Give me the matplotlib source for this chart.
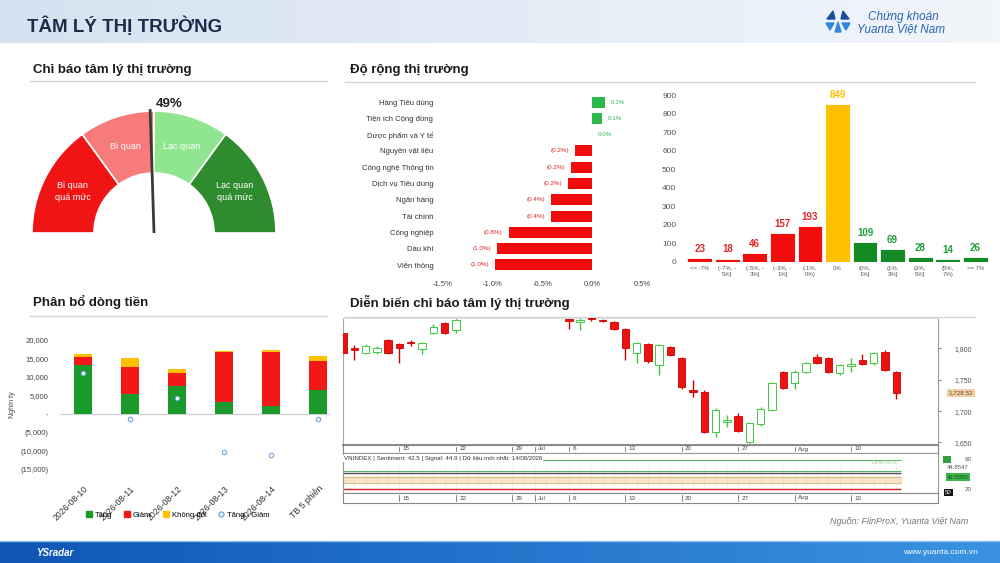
import numpy as np
import matplotlib
matplotlib.use('Agg')
import matplotlib.pyplot as plt
import matplotlib.colors as mcolors
import matplotlib.transforms as mtrans
from matplotlib.patches import Wedge, Rectangle, Polygon, Patch
from matplotlib.lines import Line2D

plt.rcParams['font.family'] = ['Liberation Sans', 'DejaVu Sans']

# ---------------- data ----------------
sentiment_value = 49
zone_bounds = [0, 30, 50, 70, 100]
zone_labels = ['Bi quan\nquá mức', 'Bi quan', 'Lạc quan', 'Lạc quan\nquá mức']

sectors = ['Hàng Tiêu dùng', 'Tiện ích Cộng đồng', 'Dược phẩm và Y tế', 'Nguyên vật liệu',
           'Công nghệ Thông tin', 'Dịch vụ Tiêu dùng', 'Ngân hàng', 'Tài chính',
           'Công nghiệp', 'Dầu khí', 'Viễn thông']
sector_change = [0.13, 0.10, 0.0, -0.17, -0.21, -0.24, -0.41, -0.41, -0.84, -0.96, -0.98]

breadth_bins = ['<= -7%', '(-7%, -\n5%]', '(-5%, -\n3%]', '(-3%, -\n1%]', '(-1%,\n0%)', '0%',
                '(0%,\n1%]', '(1%,\n3%]', '(3%,\n5%]', '(5%,\n7%)', '>= 7%']
breadth_counts = [23, 18, 46, 157, 193, 849, 109, 69, 28, 14, 26]

flow_dates = ['2026-08-10', '2026-08-11', '2026-08-12', '2026-08-13', '2026-08-14', 'TB 5 phiên']
flow_up = [13100, 5400, 7700, 3200, 2300, 6600]
flow_down = [2400, 7200, 3500, 13400, 14300, 7600]
flow_flat = [600, 2500, 1000, 400, 700, 1500]
flow_net = [11000, -1300, 4400, -10300, -11000, -1400]

candle_open = [1824, 1800, 1792, 1794, 1813, 1806, 1810, 1798, 1824, 1840,
               1829, 1852, 1858, 1865, 1861, 1872, 1869, 1875, 1879, 1866,
               1847, 1842, 1848, 1845, 1841, 1830, 1792, 1806, 1773, 1802,
               1784, 1733, 1730, 1667, 1683, 1692, 1651, 1679, 1702, 1762,
               1745, 1762, 1786, 1784, 1760, 1771, 1781, 1776, 1794, 1762]
candle_high = [1826, 1805, 1806, 1804, 1814, 1808, 1813, 1810, 1838, 1842,
               1852, 1862, 1868, 1872, 1875, 1880, 1878, 1884, 1882, 1871,
               1856, 1852, 1851, 1847, 1844, 1832, 1810, 1808, 1806, 1803,
               1786, 1749, 1733, 1705, 1694, 1697, 1683, 1706, 1746, 1764,
               1765, 1778, 1791, 1786, 1775, 1784, 1790, 1794, 1797, 1764]
candle_low = [1790, 1781, 1790, 1791, 1790, 1776, 1803, 1790, 1822, 1822,
              1824, 1850, 1854, 1858, 1857, 1866, 1862, 1870, 1864, 1856,
              1831, 1829, 1844, 1842, 1829, 1781, 1776, 1777, 1758, 1787,
              1735, 1722, 1665, 1659, 1675, 1666, 1649, 1676, 1700, 1735,
              1735, 1760, 1775, 1760, 1757, 1762, 1774, 1774, 1763, 1719]
candle_close = [1792, 1797, 1803, 1801, 1792, 1801, 1808, 1808, 1833, 1824,
                1845, 1858, 1865, 1861, 1872, 1869, 1875, 1879, 1866, 1860,
                1843, 1845, 1846, 1843, 1830, 1800, 1808, 1779, 1805, 1789,
                1738, 1731, 1667, 1702, 1686, 1668, 1681, 1703, 1744, 1737,
                1762, 1776, 1776, 1762, 1773, 1775, 1775, 1792, 1765, 1728.52]
date_tick_idx = [5, 10, 15, 17, 20, 25, 30, 35, 40, 45]
date_tick_lbl = ['15', '22', '29', 'Jul', '6', '13', '20', '27', 'Aug', '10']
price_ticks = [1650, 1700, 1750, 1800]
sentiment_latest = 42.5
signal_latest = 44.8547
level_high = 60
level_low = 20

# ---------------- figure ----------------
W, H = 1000, 563
fig = plt.figure(figsize=(10, 5.63), dpi=100)


def axpx(x0, y0, x1, y1, **kw):
    return fig.add_axes([x0 / W, 1 - y1 / H, (x1 - x0) / W, (y1 - y0) / H], **kw)


def hgrad(ax, extent, c0, c1):
    a = np.array(mcolors.to_rgb(c0))
    b = np.array(mcolors.to_rgb(c1))
    t = np.linspace(0, 1, 256)[None, :, None]
    img = a * (1 - t) + b * t
    ax.imshow(img, extent=extent, aspect='auto', zorder=0, interpolation='bilinear')


bg = axpx(0, 0, W, H)
bg.axis('off')
hgrad(bg, [0, W, 43, 0], '#D4E2F1', '#F2F6FB')
hgrad(bg, [0, W, H, 541], '#0F56B3', '#3A93E3')
bg.plot([0, W], [541, 541], color='#8CC2F0', lw=1)
bg.set_xlim(0, W)
bg.set_ylim(H, 0)

# header
bg.text(27, 26, 'TÂM LÝ THỊ TRƯỜNG', fontsize=13.5, fontweight='bold', color='#1C2B4A', va='center')
for pts, col in [([(827, 19), (835, 19), (833, 11)], '#1B4F9C'),
                 ([(841, 19), (849, 19), (843, 11)], '#1B4F9C'),
                 ([(826, 23), (834, 23), (830, 30)], '#2E86DE'),
                 ([(842, 23), (850, 23), (846, 30)], '#2E86DE'),
                 ([(835, 32), (841, 32), (838, 22)], '#2E86DE')]:
    bg.add_patch(Polygon(pts, closed=True, color=col, zorder=2))
bg.text(868, 17, 'Chứng khoán', fontsize=8.5, style='italic', color='#2A64B4', va='center')
bg.text(857, 29, 'Yuanta Việt Nam', fontsize=8.5, style='italic', color='#2A64B4', va='center')

# section titles
for (x, y, t) in [(33, 70, 'Chỉ báo tâm lý thị trường'), (350, 70, 'Độ rộng thị trường'),
                  (33, 302, 'Phân bổ dòng tiền'), (350, 302, 'Diễn biến chỉ báo tâm lý thị trường')]:
    bg.text(x, y, t, fontsize=9.5, fontweight='bold', color='#1A1A1A', va='center')
bg.plot([30, 327], [81, 81], color='#D5D5D5', lw=1)
bg.plot([345, 975], [82, 82], color='#D5D5D5', lw=1)
bg.plot([30, 327], [316, 316], color='#D5D5D5', lw=1)
bg.plot([345, 975], [317, 317], color='#D5D5D5', lw=1)

bg.text(968, 522, 'Nguồn: FiinProX, Yuanta Việt Nam', fontsize=6.5, style='italic',
        color='#777777', ha='right', va='center')
bg.text(36, 553, 'YSradar', fontsize=7, style='italic', fontweight='bold', color='white', va='center')
bg.text(978, 553, 'www.yuanta.com.vn', fontsize=6, color='white', ha='right', va='center')
bg.text(12, 405, 'Nghìn tỷ', fontsize=5, rotation=90, color='#444444', ha='center', va='center')

# ---------------- gauge ----------------
ax_g = axpx(20, 90, 290, 245)
ax_g.set_xlim(20, 290)
ax_g.set_ylim(318, 473)
ax_g.axis('off')
cx, cy, r_out, r_w = 154, 330, 122, 62
zone_colors = ['#F01414', '#F77B7B', '#90E690', '#2E8B2E']
for k in range(4):
    a1 = 180 - zone_bounds[k + 1] * 1.8
    a2 = 180 - zone_bounds[k] * 1.8
    ax_g.add_patch(Wedge((cx, cy), r_out, a1, a2, width=r_w, facecolor=zone_colors[k],
                         edgecolor='white', lw=1.2))
    am = np.deg2rad((a1 + a2) / 2)
    rm = r_out - r_w / 2
    ax_g.text(cx + rm * np.cos(am), cy + rm * np.sin(am), zone_labels[k], color='white',
              fontsize=6.5, ha='center', va='center', linespacing=1.4)
an = np.deg2rad(180 - sentiment_value * 1.8)
ax_g.plot([cx, cx + (r_out + 2) * np.cos(an)], [cy, cy + (r_out + 2) * np.sin(an)],
          color='#3A3A3A', lw=2, solid_capstyle='butt')
ax_g.text(cx + 2, 563 - 104, f'{sentiment_value}%', fontsize=9.5, fontweight='bold',
          color='#222222', ha='left', va='center')

# ---------------- sector change ----------------
ax_s = axpx(443, 94, 642, 273)
ypos = np.arange(len(sectors))
scol = ['#2DB84C' if v >= 0 else '#F20D0D' for v in sector_change]
ax_s.barh(ypos, sector_change, height=0.68, color=scol)
ax_s.set_xlim(-1.5, 0.5)
ax_s.set_ylim(len(sectors) - 0.5, -0.5)
ax_s.set_yticks(ypos)
ax_s.set_yticklabels(sectors, fontsize=5.5, color='#333333')
ax_s.set_xticks([-1.5, -1.0, -0.5, 0.0, 0.5])
ax_s.set_xticklabels(['-1.5%', '-1.0%', '-0.5%', '0.0%', '0.5%'], fontsize=5.5, color='#444444')
ax_s.tick_params(length=0)
ax_s.tick_params(axis='y', pad=7)
ax_s.tick_params(axis='x', pad=6)
for s in ax_s.spines.values():
    s.set_visible(False)
for y, v in zip(ypos, sector_change):
    if v >= 0:
        ax_s.text(v + 0.06, y, f'{v:.1f}%', fontsize=4.5, color='#2DB84C', ha='left', va='center')
    else:
        ax_s.text(v - 0.06, y, f'({abs(v):.1f}%)', fontsize=4.5, color='#E02020', ha='right', va='center')

# ---------------- breadth distribution ----------------
ax_d = axpx(686, 95, 989, 262)
xb = np.arange(len(breadth_bins))
bcol = ['#F20D0D' if i < 5 else ('#FFC000' if i == 5 else '#138A24') for i in xb]
lcol = ['#E02828' if i < 5 else ('#FFC000' if i == 5 else '#1E9E36') for i in xb]
ax_d.bar(xb, breadth_counts, width=0.9, color=bcol, edgecolor='white', lw=0.6)
ax_d.set_xlim(-0.5, len(breadth_bins) - 0.5)
ax_d.set_ylim(0, 900)
ax_d.set_yticks(range(0, 901, 100))
ax_d.set_yticklabels([str(v) for v in range(0, 901, 100)], fontsize=6, color='#555555')
ax_d.set_xticks(xb)
ax_d.set_xticklabels(breadth_bins, fontsize=4.3, color='#555555', linespacing=1.1)
ax_d.tick_params(length=0)
ax_d.tick_params(axis='y', pad=7)
ax_d.tick_params(axis='x', pad=3)
for s in ax_d.spines.values():
    s.set_visible(False)
for x, v, c in zip(xb, breadth_counts, lcol):
    ax_d.annotate(str(v), (x, v), xytext=(0, 3), textcoords='offset points', ha='center',
                  va='bottom', fontsize=7, fontweight='bold', color=c)

# ---------------- money flow ----------------
ax_m = axpx(59.5, 338, 330, 471.6)
xf = np.arange(len(flow_dates))
up = np.array(flow_up)
dn = np.array(flow_down)
fl = np.array(flow_flat)
ax_m.axhline(0, color='#D0D0D0', lw=0.9, zorder=0.5)
ax_m.bar(xf, up, width=0.38, color='#1A9A2A', zorder=2)
ax_m.bar(xf, dn, width=0.38, bottom=up, color='#F21818', zorder=2)
ax_m.bar(xf, fl, width=0.38, bottom=up + dn, color='#FFC000', zorder=2)
ax_m.scatter(xf, flow_net, s=10, facecolor='white', edgecolor='#6FA8DC', lw=0.8, zorder=3)
ax_m.set_xlim(-0.5, 5.25)
ax_m.set_ylim(-15500, 20500)
yt = [-15000, -10000, -5000, 0, 5000, 10000, 15000, 20000]


def money_fmt(v):
    if v == 0:
        return '-'
    if v < 0:
        return f'({abs(v):,})'
    return f'{v:,}'


ax_m.set_yticks(yt)
ax_m.set_yticklabels([money_fmt(v) for v in yt], fontsize=5.5, color='#444444')
ax_m.set_xticks(xf)
ax_m.set_xticklabels(flow_dates, rotation=45, ha='right', rotation_mode='anchor',
                     fontsize=6.3, color='#333333')
ax_m.tick_params(length=0)
ax_m.tick_params(axis='y', pad=8)
ax_m.tick_params(axis='x', pad=9)
for s in ax_m.spines.values():
    s.set_visible(False)
handles = [Patch(color='#1A9A2A', label='Tăng'), Patch(color='#F21818', label='Giảm'),
           Patch(color='#FFC000', label='Không đổi'),
           Line2D([], [], ls='', marker='o', markersize=3.5, markerfacecolor='white',
                  markeredgecolor='#6FA8DC', label='Tăng - Giảm')]
ax_m.legend(handles=handles, loc='center', bbox_to_anchor=(178 / W, 1 - 515 / H),
            bbox_transform=fig.transFigure, ncol=4, fontsize=5.5, frameon=False,
            handlelength=0.7, handleheight=0.7, handletextpad=0.4, columnspacing=1.6)

# ---------------- candlestick ----------------
XL = (0, 52.7)
ax_c = axpx(343, 318, 938, 445)
ax_c.set_xlim(*XL)
ax_c.set_ylim(1646, 1848)
for i, (o, h, l, c) in enumerate(zip(candle_open, candle_high, candle_low, candle_close)):
    if c < o:
        ax_c.vlines(i, l, h, color='#CC0000', lw=1, zorder=2)
        ax_c.add_patch(Rectangle((i - 0.33, c), 0.66, o - c, facecolor='#EE1111',
                                 edgecolor='#CC0000', lw=0.6, zorder=3))
    else:
        ax_c.vlines(i, l, h, color='#3CCB3C', lw=1, zorder=2)
        ax_c.add_patch(Rectangle((i - 0.33, o), 0.66, max(c - o, 0.8), facecolor='white',
                                 edgecolor='#3CCB3C', lw=0.7, zorder=3))
ax_c.set_xticks([])
ax_c.yaxis.tick_right()
ax_c.set_yticks(price_ticks)
ax_c.set_yticklabels([f'{v:,}' for v in price_ticks], fontsize=5, color='#555555')
ax_c.tick_params(axis='y', length=2, pad=10, color='#888888')
ax_c.spines['left'].set_color('#AAAAAA')
ax_c.spines['top'].set_color('#DDDDDD')
ax_c.spines['right'].set_color('#999999')
ax_c.spines['bottom'].set_color('#777777')
ax_c.spines['bottom'].set_linewidth(1.2)
tr = mtrans.blended_transform_factory(ax_c.transAxes, ax_c.transData)
ax_c.text(1.018, candle_close[-1], f'{candle_close[-1]:,.2f}', transform=tr, fontsize=4.5,
          color='#6B4F2A', va='center', ha='left',
          bbox=dict(boxstyle='square,pad=0.25', facecolor='#EECFA6', edgecolor='none'))


def date_strip(y0, y1):
    a = axpx(343, y0, 938, y1)
    a.set_xlim(*XL)
    a.set_ylim(0, 1)
    a.set_xticks([])
    a.set_yticks([])
    for s in a.spines.values():
        s.set_color('#888888')
        s.set_linewidth(0.8)
    for p, t in zip(date_tick_idx, date_tick_lbl):
        a.plot([p, p], [0.25, 0.8], color='#555555', lw=0.5)
        a.text(p + 0.3, 0.5, t, fontsize=4.5, color='#444444', ha='left', va='center')
    return a


date_strip(445, 453)

ax_i = axpx(343, 453, 938, 493)
ax_i.set_xlim(*XL)
ax_i.set_ylim(14.7, 69.3)
ax_i.set_xticks([])
ax_i.set_yticks([])
for s in ax_i.spines.values():
    s.set_color('#999999')
    s.set_linewidth(0.8)
last = len(candle_close) - 0.6
ax_i.vlines(np.arange(len(candle_close)), 18, 52, color='#EFE4D6', lw=0.4, zorder=1)
ax_i.axhspan(29, 37, xmin=0, xmax=last / XL[1], color='#F3DAB5', alpha=0.7, zorder=1)
ax_i.hlines([37], 0, last, color='#E0B57E', lw=0.8, zorder=2)
ax_i.hlines([29], 0, last, color='#D8B48C', lw=0.6, zorder=2)
ax_i.hlines([level_high], 0, last, color='#5CB85C', lw=0.8, zorder=2)
ax_i.hlines([signal_latest], 0, last, color='#58B368', lw=0.8, zorder=2)
ax_i.hlines([sentiment_latest], 0, last, color='#555555', lw=1.0, zorder=2)
ax_i.hlines([level_low], 0, last, color='#E02020', lw=1.0, zorder=2)
ax_i.text(0.05, 61.5, f'VNINDEX | Sentiment: {sentiment_latest:.1f} | Signal: {signal_latest:.1f} | '
          'Dữ liệu mới nhất: 14/08/2026', fontsize=4.4, color='#333333', va='center', ha='left',
          zorder=3, bbox=dict(boxstyle='square,pad=0.15', facecolor='white', edgecolor='none'))
ax_i.text(last - 0.3, 57, 'Level 60.00', fontsize=3.5, color='#9CCB9C', ha='right', va='center')
tri = mtrans.blended_transform_factory(ax_i.transAxes, ax_i.transData)
ax_i.text(1.01, level_high, '    ', transform=tri, fontsize=4, va='center', ha='left',
          bbox=dict(boxstyle='square,pad=0.2', facecolor='#2EA043', edgecolor='none'))
ax_i.text(1.045, level_high, f'{level_high}', transform=tri, fontsize=4.5, color='#555555',
          va='center', ha='left')
ax_i.text(1.015, signal_latest + 4, f'{signal_latest:.4f}', transform=tri, fontsize=4.3,
          color='#555555', va='center', ha='left')
ax_i.text(1.015, sentiment_latest - 6, f'{sentiment_latest:.4f}', transform=tri, fontsize=4.3,
          color='#1D4D1D', va='center', ha='left',
          bbox=dict(boxstyle='square,pad=0.2', facecolor='#3BB54A', edgecolor='none'))
ax_i.text(1.045, level_low, f'{level_low}', transform=tri, fontsize=4.5, color='#555555',
          va='center', ha='left')
ax_i.text(1.012, level_low - 5, '50', transform=tri, fontsize=4.3, color='white',
          va='center', ha='left',
          bbox=dict(boxstyle='square,pad=0.2', facecolor='#111111', edgecolor='none'))

date_strip(493, 503)

fig.savefig('out.png', dpi=100)
